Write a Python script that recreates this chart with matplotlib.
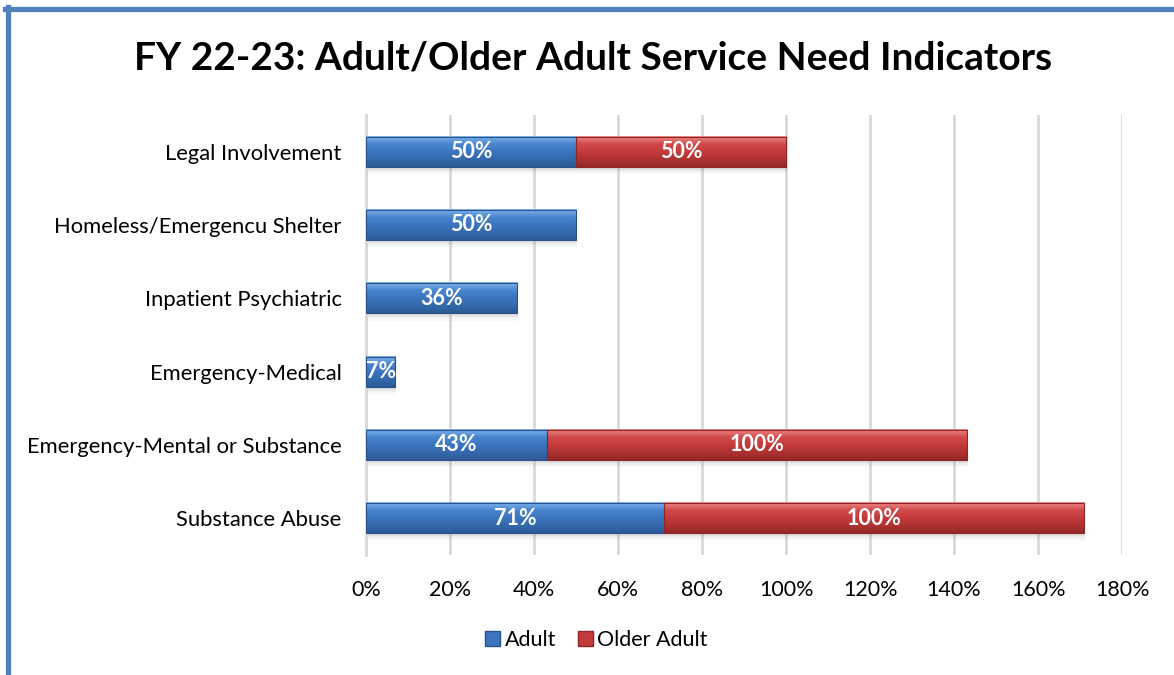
import numpy as np
import matplotlib.pyplot as plt
from matplotlib.patches import Rectangle, Patch
from matplotlib.lines import Line2D
from matplotlib.colors import LinearSegmentedColormap

plt.rcParams['font.family'] = ['Lato', 'DejaVu Sans']

categories = ['Legal Involvement', 'Homeless/Emergencu Shelter',
              'Inpatient Psychiatric', 'Emergency-Medical',
              'Emergency-Mental or Substance', 'Substance Abuse']
adult = [50, 50, 36, 7, 43, 71]
older_adult = [50, 0, 0, 0, 100, 100]
xticks = [0, 20, 40, 60, 80, 100, 120, 140, 160, 180]

# bottom -> top shading for each series
blue_shade = ['#2c5a96', '#3469ad', '#3b75c0', '#4a86d0', '#80b6ee']
red_shade = ['#962828', '#b03232', '#c43b3b', '#d24b4b', '#f08c8c']
blue_edge = '#2a5489'
red_edge = '#8c2626'

bar_h = 0.41


def grad_bar(ax, left, width, y, shades, edge):
    if width <= 0:
        return
    top = y - bar_h / 2
    bot = y + bar_h / 2
    # soft shadow under the bar
    for k, a in enumerate([0.12, 0.08, 0.05]):
        off = 0.04 + 0.03 * k
        ax.add_patch(Rectangle((left + 0.2, top + off), width, bar_h,
                               facecolor='#7f7f7f', edgecolor='none',
                               alpha=a, zorder=2))
    cmap = LinearSegmentedColormap.from_list('g', shades)
    grad = np.linspace(0, 1, 64).reshape(-1, 1)
    ax.imshow(grad, cmap=cmap, origin='lower', aspect='auto',
              extent=(left, left + width, bot, top), zorder=3,
              interpolation='bicubic')
    ax.add_patch(Rectangle((left, top), width, bar_h, facecolor='none',
                           edgecolor=edge, lw=0.8, zorder=4))


fig = plt.figure(figsize=(11.74, 6.75), dpi=100)
ax = fig.add_axes([0.3118, 0.1778, 0.6440, 0.6519])

for i, (a, o) in enumerate(zip(adult, older_adult)):
    grad_bar(ax, 0, a, i, blue_shade, blue_edge)
    ax.text(a / 2, i, f'{a}%', ha='center', va='center', color='white',
            fontsize=15.5, fontweight='bold', zorder=5)
    if o > 0:
        grad_bar(ax, a, o, i, red_shade, red_edge)
        ax.text(a + o / 2, i, f'{o}%', ha='center', va='center',
                color='white', fontsize=15.5, fontweight='bold', zorder=5)

ax.set_xlim(0, 180)
ax.set_ylim(5.5, -0.5)
ax.set_xticks(xticks)
ax.set_xticklabels([f'{t}%' for t in xticks], fontsize=15.5)
ax.set_yticks(range(len(categories)))
ax.set_yticklabels(categories, fontsize=15.8)
ax.tick_params(axis='x', length=0, pad=18)
ax.tick_params(axis='y', length=0, pad=17.5)
ax.grid(axis='x', color='#d9d9d9', lw=2, zorder=0)
ax.set_axisbelow(True)
for s in ['top', 'right', 'bottom']:
    ax.spines[s].set_visible(False)
ax.spines['left'].set_color('#d9d9d9')
ax.spines['left'].set_linewidth(2)

fig.text(0.505, 0.914, 'FY 22-23: Adult/Older Adult Service Need Indicators',
         ha='center', va='center', fontsize=28, fontweight='bold')

handles = [Patch(facecolor='#3b75c0', edgecolor=blue_edge, label='Adult'),
           Patch(facecolor='#c43b3b', edgecolor=red_edge, label='Older Adult')]
fig.legend(handles=handles, loc='center', bbox_to_anchor=(0.508, 0.052),
           ncol=2, frameon=False, fontsize=15.5, handlelength=0.7,
           handleheight=0.7, handletextpad=0.2, columnspacing=1.0)

# chart frame (top and left edges)
fig.add_artist(Line2D([5 / 1174, 1], [1 - 8.5 / 675, 1 - 8.5 / 675],
                      color='#4f81bd', lw=3.8, transform=fig.transFigure))
fig.add_artist(Line2D([7.5 / 1174, 7.5 / 1174], [0, 1 - 6.5 / 675],
                      color='#4f81bd', lw=3.8, transform=fig.transFigure))

fig.savefig('out.png', dpi=100)
